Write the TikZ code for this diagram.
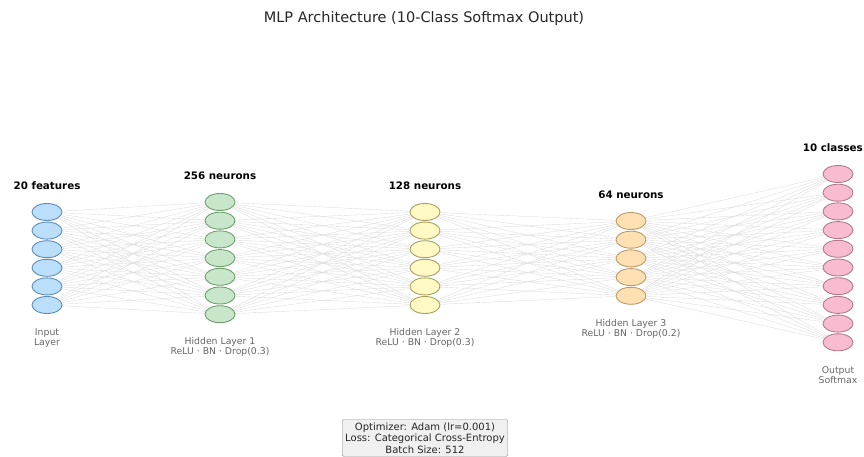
\documentclass[tikz,border=0pt]{standalone}
\usepackage{fontspec}
\setmainfont{DejaVu Sans}
\usetikzlibrary{shapes.geometric}
\definecolor{inFill}{HTML}{BBDEFB}\definecolor{inLine}{HTML}{5B8DB8}
\definecolor{hAFill}{HTML}{C8E6C9}\definecolor{hALine}{HTML}{6E9E70}
\definecolor{hBFill}{HTML}{FFF9C4}\definecolor{hBLine}{HTML}{A9A060}
\definecolor{hCFill}{HTML}{FFE0B2}\definecolor{hCLine}{HTML}{B99A6A}
\definecolor{outFill}{HTML}{F8BBD0}\definecolor{outLine}{HTML}{B07C8C}
\tikzset{
  neuron/.style={ellipse,draw,line width=.9pt,minimum width=30pt,minimum height=17pt,inner sep=0pt},
  wire/.style={black!14,line width=.35pt},
  headlbl/.style={font=\fontsize{10.3}{12}\selectfont\bfseries},
  sublbl/.style={font=\fontsize{9.3}{10.5}\selectfont,text=black!60,align=center}
}

\begin{document}
\begin{tikzpicture}[x=1pt,y=-1pt,every node/.style={font=\small}]
\useasboundingbox (0,0) rectangle (864,457);
\node[font=\fontsize{14.5}{16}\selectfont,text=black!85] (title) at (424,19) {MLP Architecture (10-Class Softmax Output)};
% layers
\foreach \i in {1,...,6} \node[neuron,draw=inLine,fill=inFill] (a\i) at (47,{212+18.6*(\i-1)}) {};
\foreach \i in {1,...,7} \node[neuron,draw=hALine,fill=hAFill] (b\i) at (220,{202+18.7*(\i-1)}) {};
\foreach \i in {1,...,6} \node[neuron,draw=hBLine,fill=hBFill] (c\i) at (425,{212+18.6*(\i-1)}) {};
\foreach \i in {1,...,5} \node[neuron,draw=hCLine,fill=hCFill] (d\i) at (631,{221+18.7*(\i-1)}) {};
\foreach \i in {1,...,10} \node[neuron,draw=outLine,fill=outFill] (e\i) at (838,{174+18.7*(\i-1)}) {};
% connections
\foreach \i in {1,...,6} \foreach \j in {1,...,7} \draw[wire] (a\i)--(b\j);
\foreach \i in {1,...,7} \foreach \j in {1,...,6} \draw[wire] (b\i)--(c\j);
\foreach \i in {1,...,6} \foreach \j in {1,...,5} \draw[wire] (c\i)--(d\j);
\foreach \i in {1,...,5} \foreach \j in {1,...,10} \draw[wire] (d\i)--(e\j);
% labels
\node[headlbl] (ahead) at (47,186) {20 features};
\node[headlbl] (bhead) at (220,176) {256 neurons};
\node[headlbl] (chead) at (425,186) {128 neurons};
\node[headlbl] (dhead) at (631,195) {64 neurons};
\node[headlbl,anchor=east,inner xsep=1pt] (ehead) at (864,148) {10 classes};
\node[sublbl] (asub) at (47,338) {Input\\Layer};
\node[sublbl] (bsub) at (220,347) {Hidden Layer 1\\ReLU · BN · Drop(0.3)};
\node[sublbl] (csub) at (425,338) {Hidden Layer 2\\ReLU · BN · Drop(0.3)};
\node[sublbl] (dsub) at (631,329) {Hidden Layer 3\\ReLU · BN · Drop(0.2)};
\node[sublbl] (esub) at (838,375) {Output\\Softmax};
\node[draw=black!45,fill=black!6,rounded corners=2pt,align=center,inner sep=3pt,
      font=\fontsize{10}{11.6}\selectfont,text=black!85] (info) at (425,438)
  {Optimizer: Adam (lr=0.001)\\Loss: Categorical Cross-Entropy\\Batch Size: 512};
\end{tikzpicture}
\end{document}
